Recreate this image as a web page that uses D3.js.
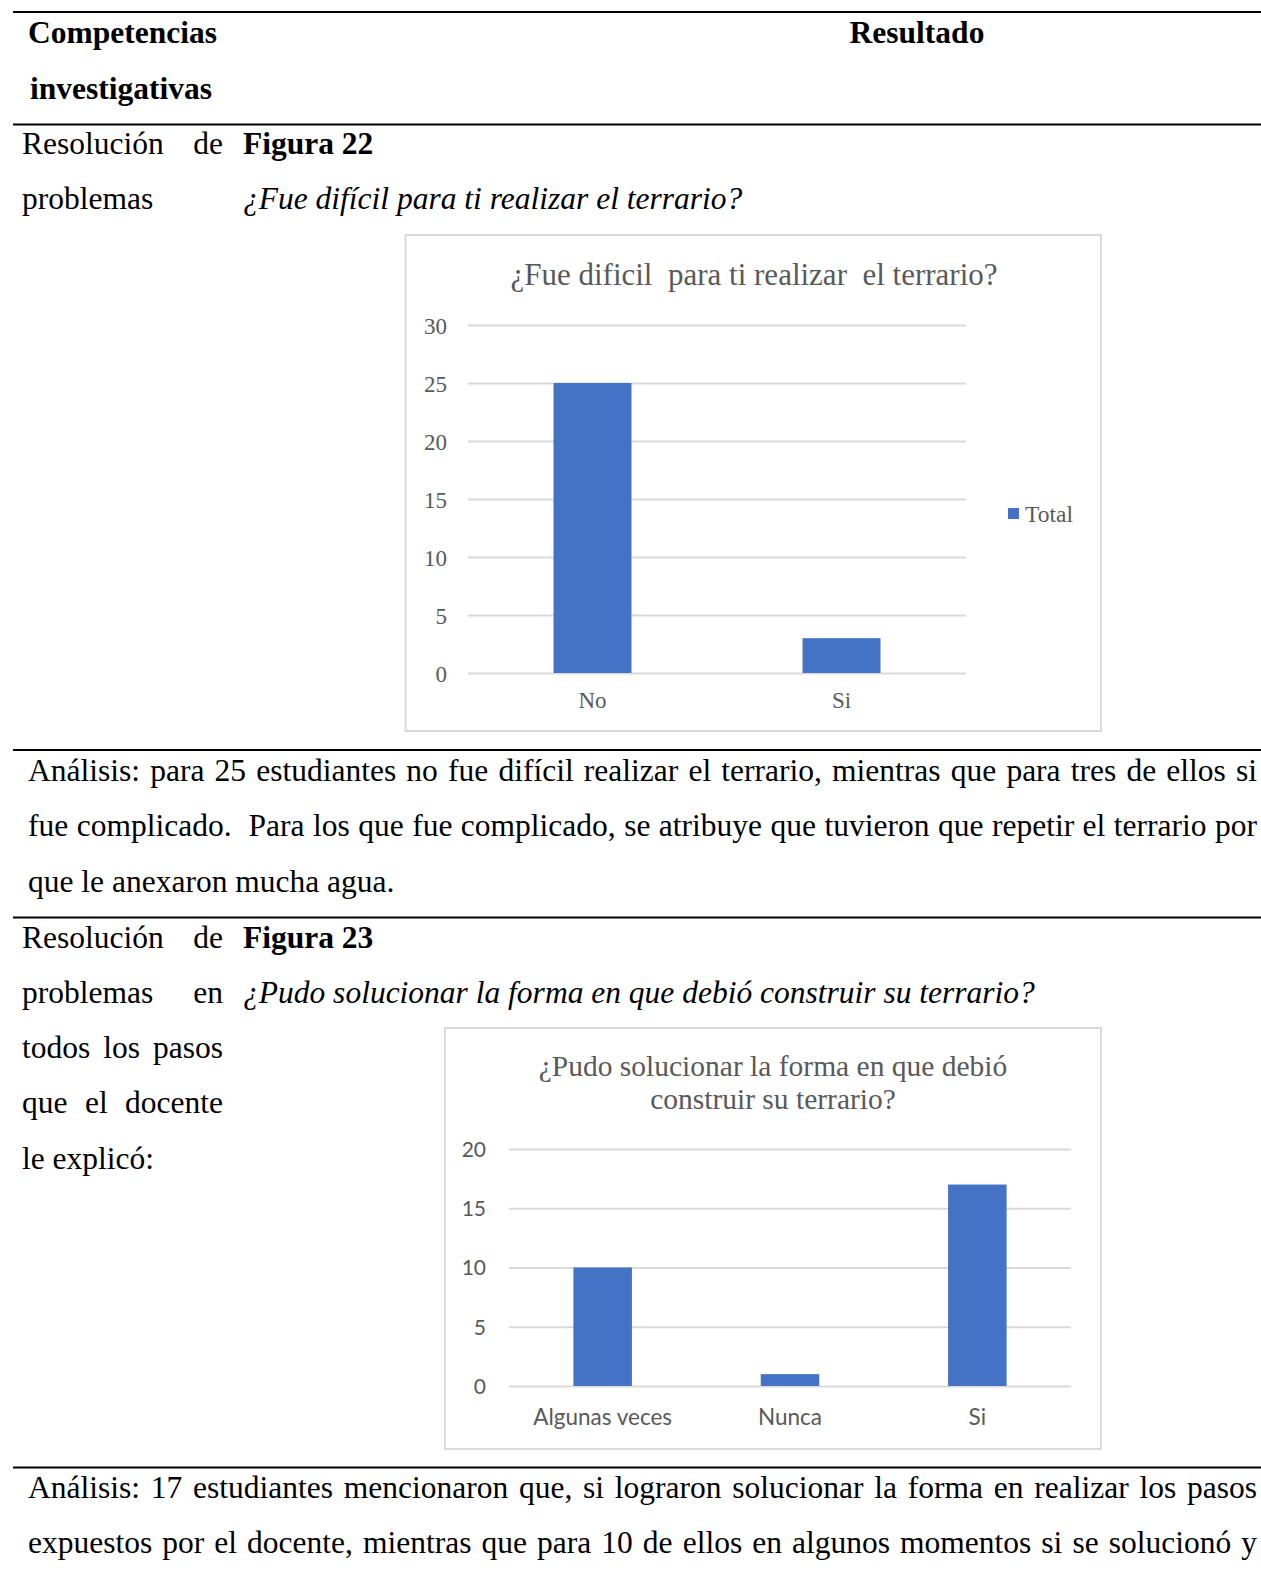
<!DOCTYPE html>
<html>
<head>
<meta charset="utf-8">
<script src="https://cdn.jsdelivr.net/npm/d3@7"></script>
<style>
  html, body { margin: 0; padding: 0; background: #fff; }
  svg { display: block; }
</style>
</head>
<body>
<svg id="page" width="1261" height="1574"></svg>
<script>
// Figura 22 data
const fig22Title = "¿Fue dificil  para ti realizar  el terrario?";
const fig22Categories = ["No", "Si"];
const fig22Values = [25, 3];
const fig22Ticks = [0, 5, 10, 15, 20, 25, 30];
const fig22Legend = ["Total"];

// Figura 23 data
const fig23TitleLines = ["¿Pudo solucionar la forma en que debió", "construir su terrario?"];
const fig23Categories = ["Algunas veces", "Nunca", "Si"];
const fig23Values = [10, 1, 17];
const fig23Ticks = [0, 5, 10, 15, 20];

const SERIF = "'Liberation Serif', 'Times New Roman', serif";
const SANS = "Lato, 'Open Sans', Calibri, sans-serif";
const BAR = "#4472C4";
const GRID = "#D9D9D9";
const LABEL = "#595959";
const BODY = 31.5;

const svg = d3.select("#page");

// Write one text line; optionally justify it between x and justifyTo
function line(txt, x, y, o = {}) {
  const t = svg.append("text")
    .attr("x", x).attr("y", y)
    .attr("font-family", o.family || SERIF)
    .attr("font-size", o.size || BODY)
    .attr("font-weight", o.weight || "normal")
    .attr("font-style", o.style || "normal")
    .attr("fill", o.fill || "#000")
    .attr("text-anchor", o.anchor || "start")
    .style("white-space", "pre")
    .text(txt);
  if (o.justifyTo) {
    const natural = t.node().getComputedTextLength();
    const gaps = (txt.match(/ /g) || []).length;
    if (gaps > 0) {
      const extra = (o.justifyTo - x - natural) / gaps;
      t.attr("word-spacing", extra);
    }
  }
  return t;
}

// Table rules
const rules = [12, 124.5, 750, 917.5, 1467.5];
svg.selectAll("line.rule").data(rules).join("line")
  .attr("class", "rule")
  .attr("x1", 13).attr("x2", 1261)
  .attr("y1", d => d).attr("y2", d => d)
  .attr("stroke", "#000").attr("stroke-width", 2);

// Header row
line("Competencias", 28, 43, { weight: "bold" });
line("investigativas", 30, 99, { weight: "bold" });
line("Resultado", 917, 43, { weight: "bold", anchor: "middle" });

// Row 1
line("Resolución de", 22, 154, { justifyTo: 223 });
line("problemas", 22, 209);
line("Figura 22", 243, 154, { weight: "bold" });
line("¿Fue difícil para ti realizar el terrario?", 243, 209, { style: "italic" });

// Analysis 1
line("Análisis: para 25 estudiantes no fue difícil realizar el terrario, mientras que para tres de ellos si", 28, 781, { justifyTo: 1257 });
line("fue complicado.  Para los que fue complicado, se atribuye que tuvieron que repetir el terrario por", 28, 836, { justifyTo: 1257 });
line("que le anexaron mucha agua.", 28, 892);

// Row 2
line("Resolución de", 22, 948, { justifyTo: 223 });
line("problemas en", 22, 1003, { justifyTo: 223 });
line("todos los pasos", 22, 1058, { justifyTo: 223 });
line("que el docente", 22, 1113, { justifyTo: 223 });
line("le explicó:", 22, 1169);
line("Figura 23", 243, 948, { weight: "bold" });
line("¿Pudo solucionar la forma en que debió construir su terrario?", 243, 1003, { style: "italic" });

// Analysis 2
line("Análisis: 17 estudiantes mencionaron que, si lograron solucionar la forma en realizar los pasos", 28, 1498, { justifyTo: 1257 });
line("expuestos por el docente, mientras que para 10 de ellos en algunos momentos si se solucionó y", 28, 1553, { justifyTo: 1257 });

// Generic Excel-style column chart
function columnChart(cfg) {
  const g = svg.append("g");
  g.append("rect")
    .attr("x", cfg.box[0]).attr("y", cfg.box[1])
    .attr("width", cfg.box[2]).attr("height", cfg.box[3])
    .attr("fill", "#fff").attr("stroke", GRID).attr("stroke-width", 2);

  cfg.titleLines.forEach((t, i) => {
    g.append("text")
      .attr("x", cfg.titleX).attr("y", cfg.titleY + i * cfg.titleLead)
      .attr("text-anchor", "middle")
      .attr("font-family", SERIF).attr("font-size", cfg.titleSize)
      .attr("fill", LABEL)
      .style("white-space", "pre")
      .text(t);
  });

  const x = d3.scaleBand()
    .domain(cfg.categories)
    .range([cfg.plot.left, cfg.plot.right])
    .paddingInner(cfg.gap).paddingOuter(cfg.gap / 2);
  const y = d3.scaleLinear()
    .domain([0, d3.max(cfg.ticks)])
    .range([cfg.plot.bottom, cfg.plot.top]);

  const yAxis = g.append("g")
    .attr("transform", `translate(${cfg.plot.left},0)`)
    .call(d3.axisLeft(y).tickValues(cfg.ticks)
      .tickSize(-(cfg.plot.right - cfg.plot.left)).tickPadding(cfg.tickPad)
      .tickFormat(d3.format("d")));
  yAxis.select(".domain").remove();
  yAxis.selectAll(".tick line").attr("stroke", GRID).attr("stroke-width", 2);
  yAxis.selectAll(".tick text")
    .attr("fill", LABEL).attr("font-family", cfg.tickFamily)
    .attr("font-size", cfg.tickSize).attr("dy", "0.35em");

  g.selectAll("rect.bar").data(cfg.values).join("rect")
    .attr("class", "bar")
    .attr("x", (d, i) => x(cfg.categories[i]))
    .attr("width", x.bandwidth())
    .attr("y", d => y(d))
    .attr("height", d => y(0) - y(d))
    .attr("fill", BAR);

  const xAxis = g.append("g")
    .attr("transform", `translate(0,${cfg.plot.bottom})`)
    .call(d3.axisBottom(x).tickSize(0).tickPadding(cfg.catPad));
  xAxis.select(".domain").remove();
  xAxis.selectAll(".tick text")
    .attr("fill", LABEL).attr("font-family", cfg.tickFamily)
    .attr("font-size", cfg.catSize).attr("dy", "0.71em");

  if (cfg.legend) {
    const lg = g.append("g");
    lg.append("rect")
      .attr("x", cfg.legend.x).attr("y", cfg.legend.y - 6)
      .attr("width", 11).attr("height", 11).attr("fill", BAR);
    lg.append("text")
      .attr("x", cfg.legend.x + 17).attr("y", cfg.legend.y)
      .attr("dy", "0.35em")
      .attr("font-family", SERIF).attr("font-size", 23.5)
      .attr("fill", LABEL)
      .text(cfg.legend.labels[0]);
  }
}

columnChart({
  box: [405.5, 235, 695.5, 496],
  titleLines: [fig22Title], titleX: 754, titleY: 285, titleLead: 0, titleSize: 31,
  categories: fig22Categories, values: fig22Values, ticks: fig22Ticks,
  plot: { left: 468, right: 966, top: 325, bottom: 673 },
  gap: 1 - 78 / 249,
  tickFamily: SERIF, tickSize: 23, catSize: 23, tickPad: 21, catPad: 19,
  legend: { x: 1008, y: 514, labels: fig22Legend }
});

columnChart({
  box: [445, 1028, 656, 421],
  titleLines: fig23TitleLines, titleX: 773, titleY: 1076, titleLead: 33, titleSize: 29.5,
  categories: fig23Categories, values: fig23Values, ticks: fig23Ticks,
  plot: { left: 509, right: 1071, top: 1149, bottom: 1386 },
  gap: 1 - 58.5 / 187.3,
  tickFamily: SANS, tickSize: 21, catSize: 22.5, tickPad: 23, catPad: 23,
  legend: null
});
</script>
</body>
</html>
